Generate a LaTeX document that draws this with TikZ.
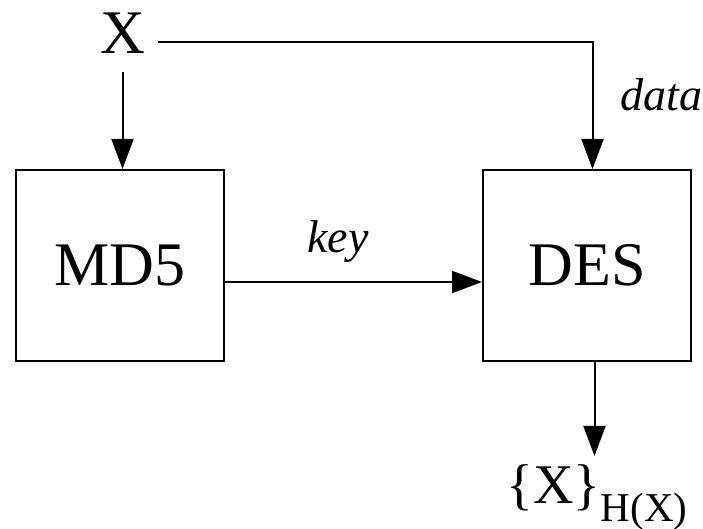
\documentclass[tikz,border=0pt]{standalone}
\usepackage{fontspec}
\setmainfont{Liberation Serif}
\usetikzlibrary{arrows.meta, positioning}

\begin{document}
\begin{tikzpicture}[
    x=0.5pt, y=-0.5pt,
    block/.style={rectangle, draw=black, line width=1pt, minimum width=104pt, minimum height=95.5pt, inner sep=0pt, font=\fontsize{31}{36}\selectfont},
    bigtext/.style={inner sep=0pt, font=\fontsize{31}{36}\selectfont},
    lbl/.style={inner sep=0pt, font=\fontsize{23}{27}\selectfont\itshape},
    outlbl/.style={inner sep=0pt},
    line/.style={draw=black, line width=1pt, -{Triangle[length=15pt, width=11pt]}}
]
    \useasboundingbox (0,0) rectangle (703,529);

    % Hash and cipher
    \node [block] (md5) at (120,265.5) {MD5};
    \node [block, right=128.5pt of md5] (des) {DES};

    % Input and output
    \node [bigtext, above=57.5pt of md5, xshift=1.25pt] (x) {X};
    \node [outlbl, below=51pt of des, xshift=5pt] (out) {{\fontsize{28}{30}\selectfont\{X\}}\raisebox{-9pt}{\fontsize{20.5}{24}\selectfont H(X)}};

    % Connections
    \path [line] ([yshift=-9pt]x.south) -- (x.south |- md5.north);
    \path [line] ([xshift=6.5pt, yshift=-4.25pt]x.east) -| node[lbl, pos=0.71, right=13.5pt]{data} ([xshift=2.75pt]des.north);
    \path [line] ([yshift=-8.25pt]md5.east) -- node[lbl, pos=0.44, anchor=base, yshift=14.5pt]{key} ([yshift=-8.25pt]des.west);
    \path [line, shorten >=4pt] ([xshift=3.75pt]des.south) -- ([xshift=3.75pt]des.south |- out.north);

\end{tikzpicture}
\end{document}
